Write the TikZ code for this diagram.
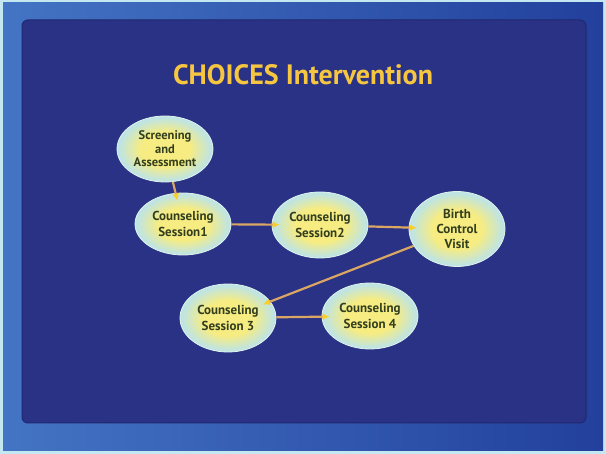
\documentclass[tikz,border=0pt]{standalone}
\usepackage{fontspec}
\setmainfont{PT Sans}
\usetikzlibrary{arrows.meta}
\usetikzlibrary{shapes.geometric}
\usepackage{xcolor}
\definecolor{frameCyan}{RGB}{196,232,242}
\definecolor{bgLeft}{RGB}{68,116,196}
\definecolor{bgRight}{RGB}{34,64,156}
\definecolor{slideBlue}{RGB}{42,50,134}
\definecolor{slideEdge}{RGB}{32,40,112}
\definecolor{titleYellow}{RGB}{246,198,64}
\definecolor{bubbleYellow}{RGB}{246,236,130}
\definecolor{bubbleCyan}{RGB}{190,228,228}
\definecolor{bubbleRim}{RGB}{225,242,236}
\definecolor{textOlive}{RGB}{50,62,30}
\definecolor{linkTan}{RGB}{218,166,100}
\definecolor{tipYellow}{RGB}{250,208,40}

\pgfdeclareradialshading{bubbleglow}{\pgfpoint{0bp}{0bp}}{color(0bp)=(bubbleYellow); color(13bp)=(bubbleYellow); color(24bp)=(bubbleCyan); color(50bp)=(bubbleCyan)}

\tikzset{
  bubble/.style={ellipse, shading=bubbleglow, draw=bubbleRim, line width=0.8pt,
    minimum width=96pt, minimum height=66pt, inner sep=0pt, align=center,
    text=textOlive, font=\bfseries\fontsize{13}{16.5}\selectfont},
  link/.style={draw=linkTan, line width=2.2pt, shorten >=-8pt,
    -{Latex[length=7pt,width=7pt,color=tipYellow]}},
}

\begin{document}
\begin{tikzpicture}[x=1pt, y=-1pt]
    \useasboundingbox (0,0) rectangle (606,454);

    % slide background
    \fill[frameCyan] (0,0) rectangle (606,454);
    \shade[left color=bgLeft, right color=bgRight] (3,3) rectangle (603,451);
    \fill[slideBlue, draw=slideEdge, line width=1pt, rounded corners=6pt] (22,20) rectangle (586,423);

    \node[text=titleYellow, font=\bfseries\fontsize{28}{30}\selectfont] (title) at (303,75) {CHOICES Intervention};

    \node[bubble, font=\bfseries\fontsize{12.5}{13.5}\selectfont] (screen) at (165,149) {Screening\\and\\Assessment};
    \node[bubble, minimum height=62pt] (cs1) at (183,224) {Counseling\\Session1};
    \node[bubble] (cs2) at (320,225) {Counseling\\Session2};
    \node[bubble, minimum height=75pt, font=\bfseries\fontsize{13}{15}\selectfont] (bcv) at (457,229) {Birth\\Control\\Visit};
    \node[bubble, minimum height=68pt] (cs3) at (228,318) {Counseling\\Session 3};
    \node[bubble] (cs4) at (370,316) {Counseling\\Session 4};

    % draw links
    \draw[link] (screen) -- (cs1);
    \draw[link] (cs1) -- (cs2);
    \draw[link] (cs2) -- (bcv);
    \draw[link] (bcv) -- (cs3);
    \draw[link] (cs3) -- (cs4);
\end{tikzpicture}
\end{document}
